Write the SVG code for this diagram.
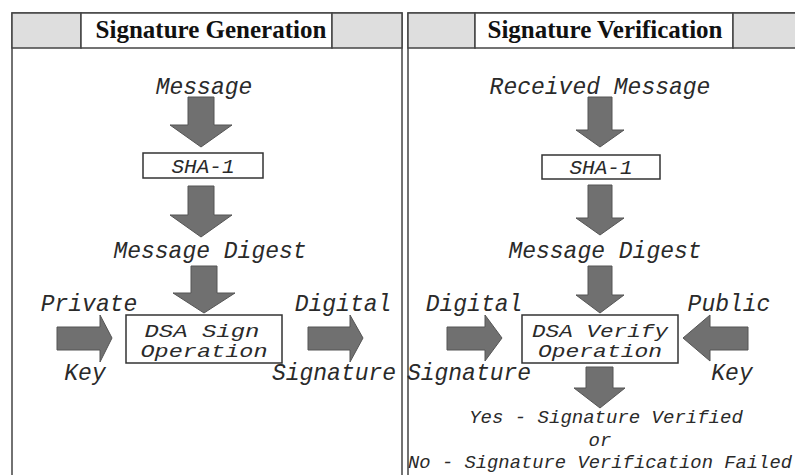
<svg xmlns="http://www.w3.org/2000/svg" width="795" height="475" viewBox="0 0 795 475">
<style>
.panel{fill:#fff;stroke:#444;stroke-width:1.5}
.hgray{fill:#dedede;stroke:#444;stroke-width:1.5}
.hwhite{fill:#fff;stroke:#444;stroke-width:1.5}
.htxt{font-family:"Liberation Serif","Times New Roman",serif;font-weight:bold;font-size:25px;fill:#111;text-anchor:middle}
.box{fill:#fff;stroke:#333;stroke-width:1.5}
.t{font-family:"Liberation Mono","Courier New",monospace;font-style:italic;font-size:23px;fill:#2a2a2a;text-anchor:middle}
.tb{font-family:"Liberation Mono","Courier New",monospace;font-style:italic;font-size:19px;fill:#2a2a2a;text-anchor:middle}
.ts{font-family:"Liberation Mono","Courier New",monospace;font-style:italic;font-size:19px;fill:#2a2a2a;text-anchor:middle}
.arr{fill:#707070;stroke:#555;stroke-width:1}
</style>
<rect width="795" height="475" fill="#fff"/>
<g id="panel-generation">
<rect class="panel" x="12" y="13" width="390" height="470"/>
<rect class="hgray" x="12" y="13" width="69" height="35"/>
<rect class="hwhite" x="81" y="13" width="251" height="35"/>
<rect class="hgray" x="332" y="13" width="70" height="35"/>
<text class="htxt" x="211" y="38">Signature Generation</text>
</g>
<g id="panel-verification">
<rect class="panel" x="408" y="13" width="400" height="470"/>
<rect class="hgray" x="408" y="13" width="67" height="35"/>
<rect class="hwhite" x="475" y="13" width="258" height="35"/>
<rect class="hgray" x="733" y="13" width="75" height="35"/>
<text class="htxt" x="605" y="38">Signature Verification</text>
</g>
<g id="connectors">
<polygon class="arr" points="188,97 214,97 214,125 232,125 201,147 170,125 188,125"/>
<polygon class="arr" points="188,186 214,186 214,215 232,215 201,237 170,215 188,215"/>
<polygon class="arr" points="191,266 217,266 217,293 235,293 204,313 173,293 191,293"/>
<polygon class="arr" points="57,327 100,327 100,315 112,338 100,362 100,350 57,350"/>
<polygon class="arr" points="308,327 350,327 350,315 363,338 350,362 350,350 308,350"/>
<polygon class="arr" points="588,97 612,97 612,130 624,130 600,147 576,130 588,130"/>
<polygon class="arr" points="588,185 612,185 612,218 624,218 600,235 576,218 588,218"/>
<polygon class="arr" points="588,266 612,266 612,295 624,295 600,313 576,295 588,295"/>
<polygon class="arr" points="447,327 485,327 485,315 502,338 485,361 485,350 447,350"/>
<polygon class="arr" points="748,327 710,327 710,315 683,338 710,361 710,350 748,350"/>
<polygon class="arr" points="586,367 613,367 613,388 625,388 600,408 574,388 586,388"/>
</g>
<g id="gen-message"><text class="t" x="204" y="94">Message</text></g>
<g id="gen-sha1"><rect class="box" x="143" y="153" width="120" height="25"/><text class="t" x="203" y="173" style="font-size:21px">SHA-1</text></g>
<g id="gen-digest"><text class="t" x="210" y="258">Message Digest</text></g>
<g id="gen-private-key"><text class="t" x="89" y="311">Private</text><text class="t" x="85" y="380">Key</text></g>
<g id="gen-dsa-sign"><rect class="box" x="126" y="315" width="156" height="48"/><text class="tb" x="202" y="337" textLength="115" lengthAdjust="spacingAndGlyphs">DSA Sign</text><text class="tb" x="204" y="357" textLength="127" lengthAdjust="spacingAndGlyphs">Operation</text></g>
<g id="gen-digital-signature"><text class="t" x="343" y="311">Digital</text><text class="t" x="334" y="380">Signature</text></g>
<g id="ver-message"><text class="t" x="600" y="94">Received Message</text></g>
<g id="ver-sha1"><rect class="box" x="542" y="155" width="118" height="24"/><text class="t" x="601" y="174" style="font-size:21px">SHA-1</text></g>
<g id="ver-digest"><text class="t" x="605" y="258">Message Digest</text></g>
<g id="ver-digital-signature"><text class="t" x="474" y="311">Digital</text><text class="t" x="469" y="380">Signature</text></g>
<g id="ver-dsa-verify"><rect class="box" x="522" y="315" width="156" height="48"/><text class="tb" x="600" y="337" textLength="136" lengthAdjust="spacingAndGlyphs">DSA Verify</text><text class="tb" x="600" y="357" textLength="124" lengthAdjust="spacingAndGlyphs">Operation</text></g>
<g id="ver-public-key"><text class="t" x="729" y="311">Public</text><text class="t" x="732" y="380">Key</text></g>
<g id="ver-result"><text class="ts" x="606" y="423">Yes - Signature Verified</text><text class="ts" x="600" y="446">or</text><text class="ts" x="600" y="468" textLength="384" lengthAdjust="spacingAndGlyphs">No - Signature Verification Failed</text></g>
</svg>
